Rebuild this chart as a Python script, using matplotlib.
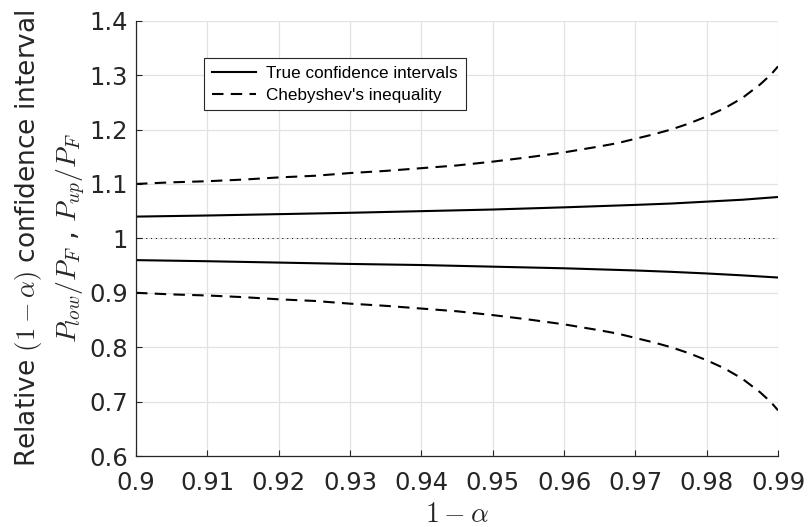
import numpy as np
import matplotlib
matplotlib.use('Agg')
import matplotlib.pyplot as plt

params = {'mathtext.fontset': 'cm', 'font.family': 'DejaVu Sans'}
plt.rcParams.update(params)

# confidence level 1 - alpha
conf_true = [0.90, 0.91, 0.92, 0.93, 0.94, 0.95, 0.96, 0.97, 0.975, 0.98, 0.985, 0.99]
true_up = [1.040, 1.042, 1.0445, 1.047, 1.050, 1.053, 1.057, 1.0615, 1.064, 1.0675, 1.071, 1.076]
true_low = [0.960, 0.958, 0.9555, 0.953, 0.951, 0.948, 0.945, 0.941, 0.9385, 0.9355, 0.932, 0.928]

conf_cheb = [0.900, 0.905, 0.910, 0.915, 0.920, 0.925, 0.930, 0.935, 0.940, 0.945, 0.950,
             0.955, 0.960, 0.965, 0.9675, 0.970, 0.9725, 0.975, 0.9775, 0.980, 0.9825,
             0.985, 0.9875, 0.989, 0.990]
cheb_up = [1.100, 1.103, 1.105, 1.108, 1.112, 1.115, 1.120, 1.124, 1.129, 1.134, 1.141,
           1.149, 1.158, 1.169, 1.175, 1.183, 1.191, 1.200, 1.211, 1.224, 1.239,
           1.258, 1.283, 1.301, 1.316]
cheb_low = [0.900, 0.897, 0.895, 0.892, 0.888, 0.885, 0.880, 0.876, 0.871, 0.866, 0.859,
            0.851, 0.842, 0.831, 0.825, 0.817, 0.809, 0.800, 0.789, 0.776, 0.761,
            0.742, 0.717, 0.699, 0.684]

x_ticks = [0.9, 0.91, 0.92, 0.93, 0.94, 0.95, 0.96, 0.97, 0.98, 0.99]
x_ticklabels = ['0.9', '0.91', '0.92', '0.93', '0.94', '0.95', '0.96', '0.97', '0.98', '0.99']
y_ticks = [0.6, 0.7, 0.8, 0.9, 1.0, 1.1, 1.2, 1.3, 1.4]
y_ticklabels = ['0.6', '0.7', '0.8', '0.9', '1', '1.1', '1.2', '1.3', '1.4']

axcol = '#262626'

fig = plt.figure(figsize=(8.08, 5.27), dpi=100)
ax = fig.add_axes([0.1683, 0.1347, 0.7946, 0.8260])

ax.plot(conf_true, true_up, 'k-', lw=1.5, label='True confidence intervals')
ax.plot(conf_true, true_low, 'k-', lw=1.5)
ax.plot(conf_cheb, cheb_up, color='k', lw=1.5, dashes=(5.5, 3.5), label="Chebyshev's inequality")
ax.plot(conf_cheb, cheb_low, color='k', lw=1.5, dashes=(5.5, 3.5))
ax.axhline(1.0, color='k', lw=0.7, linestyle=(0, (1, 4)))

ax.set_xlim(0.9, 0.99)
ax.set_ylim(0.6, 1.4)
ax.set_xticks(x_ticks)
ax.set_xticklabels(x_ticklabels)
ax.set_yticks(y_ticks)
ax.set_yticklabels(y_ticklabels)
ax.grid(True, color='#e2e2e2', lw=0.9)
ax.set_axisbelow(True)

for s in ['top', 'right']:
    ax.spines[s].set_visible(False)
for s in ['left', 'bottom']:
    ax.spines[s].set_color(axcol)
    ax.spines[s].set_linewidth(0.9)

ax.tick_params(direction='in', length=4.5, width=0.8, color=axcol, labelcolor=axcol, labelsize=17.5)
ax.tick_params(axis='x', pad=11)
ax.tick_params(axis='y', pad=6)

ax.set_xlabel(r'$1-\alpha$', fontsize=20, color=axcol)
ax.xaxis.set_label_coords(0.5, -0.102)

fig.text(0.0347, 0.548, r'Relative $(1-\alpha)$ confidence interval', rotation=90,
         ha='center', va='center', fontsize=19, color=axcol)
fig.text(0.0879, 0.548, r'$P_{low}/P_F$ , $P_{up}/P_F$', rotation=90,
         ha='center', va='center', fontsize=20, color=axcol)

leg = ax.legend(loc='upper left', bbox_to_anchor=(0.106, 0.914), borderaxespad=0,
                fancybox=False, handlelength=2.6, framealpha=1, borderpad=0.45,
                labelspacing=0.4, handletextpad=0.6,
                prop={'family': 'Liberation Sans', 'size': 12.3})
leg.get_frame().set_edgecolor(axcol)
leg.get_frame().set_linewidth(0.8)

plt.savefig('out.png', dpi=100)
